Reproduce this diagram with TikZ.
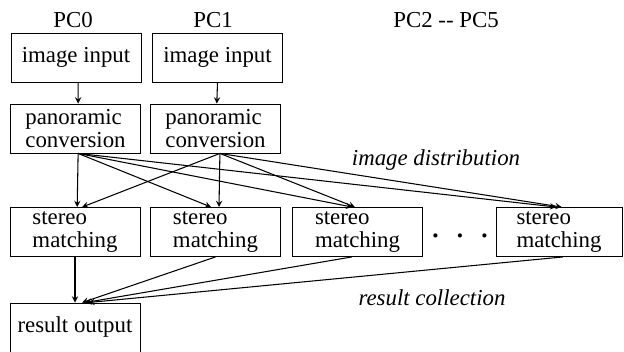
\documentclass[tikz,border=0pt]{standalone}
\usepackage{fontspec}
\setmainfont{Liberation Serif}
\usepackage{tikz}
\usetikzlibrary{shapes,arrows,positioning,calc}
\tikzstyle{pcbox} = [rectangle, minimum width=2.6cm, minimum height=0.98cm, align=left, draw=black, line width=0.5pt, inner sep=2pt]
\tikzstyle{pclabel} = [inner sep=0pt]
\tikzstyle{phase} = [inner sep=0pt, font=\fontsize{13}{14}\selectfont\itshape]
\tikzstyle{arrow} = [line width=0.6pt,->,>=stealth]

\begin{document}
\begin{tikzpicture}[every node/.style={font=\fontsize{13}{13.5}\selectfont}]
\useasboundingbox (0,0) rectangle (12.48,7.02);

% Headers
\node (pc0) [pclabel] at (1.46,6.62) {PC0};
\node (pc1) [pclabel] at (4.26,6.62) {PC1};
\node (pcrest) [pclabel] at (8.92,6.62) {PC2 {-}{-} PC5};

% Input
\node (in0) [pcbox] at (1.52,5.87) {image input};
\node (in1) [pcbox] at (4.35,5.87) {image input};

% Conversion
\node (pan0) [pcbox] at (1.51,4.45) {panoramic\\conversion};
\node (pan1) [pcbox] at (4.31,4.45) {panoramic\\conversion};

% Stereo
\node (st0) [pcbox] at (1.50,2.38) {stereo\\matching};
\node (st1) [pcbox] at (4.31,2.38) {stereo\\matching};
\node (st2) [pcbox] at (7.15,2.38) {stereo\\matching};
\node (st3) [pcbox, minimum width=2.52cm] at (11.18,2.38) {stereo\\matching};
\node (dots) [pclabel, anchor=base] at (9.2,2.26) {\fontsize{20}{20}\selectfont .\hspace{0.45em}.\hspace{0.45em}.};

% Output
\node (out) [pcbox] at (1.50,0.47) {result output};

% Labels
\node (dist) [phase] at (8.72,3.82) {image distribution};
\node (coll) [phase] at (8.64,1.06) {result collection};

% Arrows
\draw [arrow] (in0.275) -- (pan0.84);
\draw [arrow] (in1.south) -- (pan1.87);

\draw [arrow] (pan0.276) -- (st0.85);
\draw [arrow] (pan0.276) -- (st1.100);
\draw [arrow] (pan0.276) -- (st2.102);
\draw [arrow] (pan0.276) -- (st3.96);
\draw [arrow] (pan1.280) -- (st0.74);
\draw [arrow] (pan1.280) -- (st1.82);
\draw [arrow] (pan1.280) -- (st2.96);
\draw [arrow] (pan1.280) -- (st3.84);

\draw [arrow] (st0.south) -- (out.north);
\draw [arrow] (st1.south) -- (out.74);
\draw [arrow] (st2.257) -- (out.68);
\draw [arrow] (st3.279) -- (out.62);

\end{tikzpicture}
\end{document}
